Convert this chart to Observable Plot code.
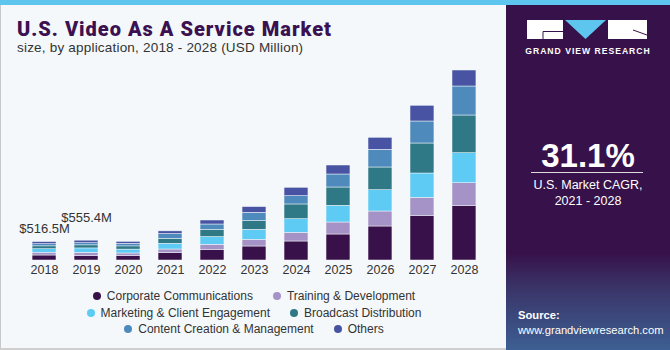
<!DOCTYPE html>
<html>
<head>
<meta charset="utf-8">
<script src="https://cdn.jsdelivr.net/npm/d3@7"></script>
<script src="https://cdn.jsdelivr.net/npm/@observablehq/plot@0.6"></script>
<style>
  html, body { margin: 0; padding: 0; }
  body { width: 670px; height: 350px; position: relative; overflow: hidden; background: #f4f8fb; font-family: "Liberation Sans", Arial, sans-serif; }
  #topbar { position: absolute; left: 0; top: 0; width: 670px; height: 5px; background: #5ec6ee; }
  #leftline { position: absolute; left: 0; top: 5px; width: 1px; height: 345px; background: #c8c8c8; }
  #bottomline { position: absolute; left: 0; top: 348px; width: 506px; height: 2px; background: #cfcfcf; }
  #title { position: absolute; left: 17px; top: 19px; font-family: Roboto, "Liberation Sans", sans-serif; font-weight: 900; font-size: 20px; line-height: 20px; letter-spacing: 1px; color: #3b1152; white-space: nowrap; }
  #subtitle { position: absolute; left: 17px; top: 40px; font-size: 13.5px; line-height: 15px; letter-spacing: 0.2px; color: #333; white-space: nowrap; }
  #chart { position: absolute; left: 0; top: 60px; }
  #legend { position: absolute; left: 84px; top: 288px; width: 340px; display: flex; flex-wrap: wrap; justify-content: center; column-gap: 20px; font-size: 12px; color: #333; line-height: 16.5px; }
  .item { display: flex; align-items: center; white-space: nowrap; }
  .dot { width: 8px; height: 8px; border-radius: 50%; margin-right: 6px; }
  #panel { position: absolute; left: 506px; top: 5px; width: 164px; height: 345px; background: linear-gradient(to bottom, #37124a 0%, #37124a 72%, #3a3468 82%, #3d5f93 100%); color: #fff; }
  #gvr { position: absolute; left: 0; top: 41px; width: 164px; text-align: center; font-size: 8.6px; font-weight: bold; letter-spacing: 1px; }
  #cagr { position: absolute; left: 0; top: 132px; width: 164px; text-align: center; font-size: 33px; font-weight: bold; }
  #rule { position: absolute; left: 25px; top: 167px; width: 112px; height: 1px; background: #ddd; }
  #cagrtxt { position: absolute; left: 0; top: 173px; width: 164px; text-align: center; font-size: 12.5px; line-height: 15.5px; }
  #source { position: absolute; left: 12px; top: 303px; font-size: 11.2px; line-height: 15px; }
</style>
</head>
<body>
<div id="topbar"></div>
<div id="leftline"></div>
<div id="bottomline"></div>
<div id="title">U.S. Video As A Service Market</div>
<div id="subtitle">size, by application, 2018 - 2028 (USD Million)</div>
<div id="chart"></div>
<div id="legend"></div>
<div id="panel">
  <svg width="164" height="40" style="position:absolute;left:0;top:0">
    <rect x="21" y="15" width="36" height="19" fill="#fff"/>
    <polyline points="57,26.5 37,26.5 37,34" fill="none" stroke="#37124a" stroke-width="1"/>
    <polygon points="59,15 100,15 79.5,34" fill="#5ec6ee"/>
    <rect x="102" y="15" width="39" height="19" fill="#fff"/>
    <line x1="127" y1="25" x2="141" y2="30" stroke="#37124a" stroke-width="1"/>
  </svg>
  <div id="gvr">GRAND VIEW RESEARCH</div>
  <div id="cagr">31.1%</div>
  <div id="rule"></div>
  <div id="cagrtxt">U.S. Market CAGR,<br>2021 - 2028</div>
  <div id="source"><b>Source:</b><br>www.grandviewresearch.com</div>
</div>
<script>
const years = ["2018","2019","2020","2021","2022","2023","2024","2025","2026","2027","2028"];
const segments = ["Corporate Communications","Training & Development","Marketing & Client Engagement","Broadcast Distribution","Content Creation & Management","Others"];
const colors = ["#38104a","#a592c6","#5ecbf5","#2f7886","#4f8abd","#4854a3"];
const corporate = [140, 130, 125, 204, 300, 392, 532, 728, 952, 1252, 1520];
const training  = [78, 86, 72, 104, 140, 188, 244, 336, 420, 504, 644];
const marketing = [98, 122, 108, 160, 216, 280, 381, 468, 596, 680, 840];
const broadcast = [80, 86, 90, 140, 204, 244, 412, 512, 636, 840, 1056];
const content   = [60, 60, 72, 132, 148, 232, 232, 364, 496, 616, 812];
const others    = [60.5, 71.4, 55, 76, 112, 160, 235, 252, 336, 440, 448];
const labelYears = ["2018","2019"];
const labelTexts = ["$516.5M","$555.4M"];
const labelValues = [516.5, 555.4];

const series = [corporate, training, marketing, broadcast, content, others];
const rows = [];
years.forEach((yr, i) => segments.forEach((s, j) => rows.push({year: yr, segment: s, value: series[j][i]})));
const labels = labelYears.map((y, i) => ({year: y, text: labelTexts[i], value: labelValues[i]}));

const chart = Plot.plot({
  width: 500,
  height: 225,
  marginLeft: 14,
  marginRight: 6,
  marginTop: 0,
  marginBottom: 25,
  style: {background: "transparent", fontFamily: "Liberation Sans, Arial, sans-serif", color: "#333"},
  x: {domain: years, padding: 0.43, round: false, label: null, tickSize: 0, tickPadding: 5, fontSize: 12.5},
  y: {domain: [0, 5600], axis: null},
  color: {domain: segments, range: colors},
  marks: [
    Plot.barY(rows, {x: "year", y: "value", fill: "segment", order: segments, stroke: "#f4f8fb", strokeWidth: 0.5}),
    Plot.text(labels.filter(d => d.year === "2018"), {x: "year", y: "value", text: "text", dy: -13, fontSize: 13, fill: "#333"}),
    Plot.text(labels.filter(d => d.year === "2019"), {x: "year", y: "value", text: "text", dy: -23, fontSize: 13, fill: "#333"})
  ]
});
chart.querySelectorAll("g[aria-label='x-axis tick label']").forEach(g => g.setAttribute("font-size", "12.5"));
document.getElementById("chart").appendChild(chart);

const legend = document.getElementById("legend");
segments.forEach((s, i) => {
  const item = document.createElement("div");
  item.className = "item";
  const dot = document.createElement("span");
  dot.className = "dot";
  dot.style.background = colors[i];
  item.appendChild(dot);
  item.appendChild(document.createTextNode(s));
  legend.appendChild(item);
});
</script>
</body>
</html>
